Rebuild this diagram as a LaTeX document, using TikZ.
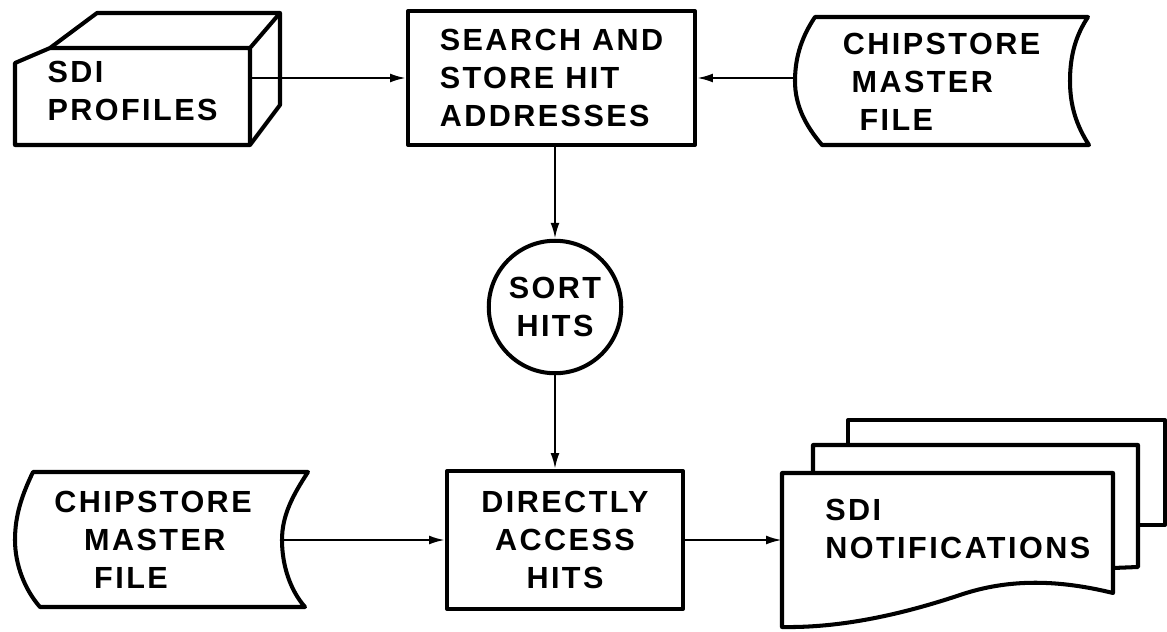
\documentclass[tikz,border=0pt]{standalone}
\usepackage{fontspec}
\setmainfont{Liberation Sans}[LetterSpace=8]
\usetikzlibrary{arrows.meta}

\begin{document}
\begin{tikzpicture}[x=0.02cm,y=-0.02cm,line join=round,
        font=\fontsize{17.4}{21.5}\selectfont\bfseries,
        box/.style={draw,line width=2.3pt,inner sep=0pt},
        outline/.style={line width=2.3pt},
        flow/.style={line width=1.3pt,-{Latex[length=9pt,width=5pt]}}]
    \useasboundingbox (0,0) rectangle (1167,632);

    \node[inner sep=0pt,minimum width=4.7cm,align=left] (sdi) at (132.5,91) {SDI\\PROFILES};
    \node[box,minimum width=5.74cm,minimum height=2.68cm,align=left] (search) at (551.5,78) {SEARCH AND\\STORE HIT\\ADDRESSES};
    \node[inner sep=0pt,minimum width=5.86cm,minimum height=2.56cm,align=left] (chipA) at (941.5,82) {CHIPSTORE\\\hspace{5pt}MASTER\\\hspace{9.5pt}FILE};
    \node[box,circle,minimum size=2.65cm,align=center] (sort) at (555,307) {SORT\\HITS};
    \node[box,minimum width=4.72cm,minimum height=2.76cm,align=center] (access) at (565,540) {DIRECTLY\\ACCESS\\HITS};
    \node[inner sep=0pt,align=left] (chipB) at (153,540) {CHIPSTORE\\\hspace{17pt}MASTER\\\hspace{22.7pt}FILE};
    \node[anchor=west,inner xsep=0.86cm,inner ysep=0pt,align=left] (notif) at (782,529) {SDI\\NOTIFICATIONS};

    % profile box
    \draw[outline] (15,145) -- (15,63) -- (50,48) -- (97,13) -- (280,13) -- (280,105) -- (250,145) -- cycle;
    \draw[outline] (50,48) -- (250,48) -- (280,13) (250,48) -- (250,145);

    % master files
    \draw[outline] (815,17) -- (1088,17) .. controls (1076,35) and (1070,55) .. (1070,81) .. controls (1070,105) and (1076,125) .. (1089,145)
        -- (822,145) .. controls (805,125) and (795,105) .. (795,81) .. controls (795,55) and (803,35) .. (815,17) -- cycle;
    \draw[outline] (33,472) -- (308,472) .. controls (293,495) and (282,515) .. (282,540) .. controls (282,565) and (290,590) .. (305,607)
        -- (40,607) .. controls (25,590) and (15,565) .. (15,540) .. controls (15,515) and (22,495) .. (33,472) -- cycle;
    \coordinate (chipBout) at (282,540);

    % notifications
    \draw[outline] (848,445) -- (848,420) -- (1165,420) -- (1165,525) -- (1138,525);
    \draw[outline] (813,473) -- (813,445) -- (1138,445) -- (1138,567) -- (1113,568);
    \draw[outline] (782,473) -- (1113,473) -- (1113,593) .. controls (1060,580) and (1010,578) .. (960,595) .. controls (900,615) and (840,628) .. (782,627) -- cycle;

    \draw[flow] (sdi.east |- search.west) -- (search.west); \draw[flow] (chipA.west |- search.east) -- (search.east);
    \draw[flow] (sort |- search.south) -- (sort.north); \draw[flow] (sort) -- (sort |- access.north);
    \draw[flow] (chipBout) -- (chipBout -| access.west); \draw[flow] (access.east) -- (access.east -| notif.west);
\end{tikzpicture}
\end{document}
